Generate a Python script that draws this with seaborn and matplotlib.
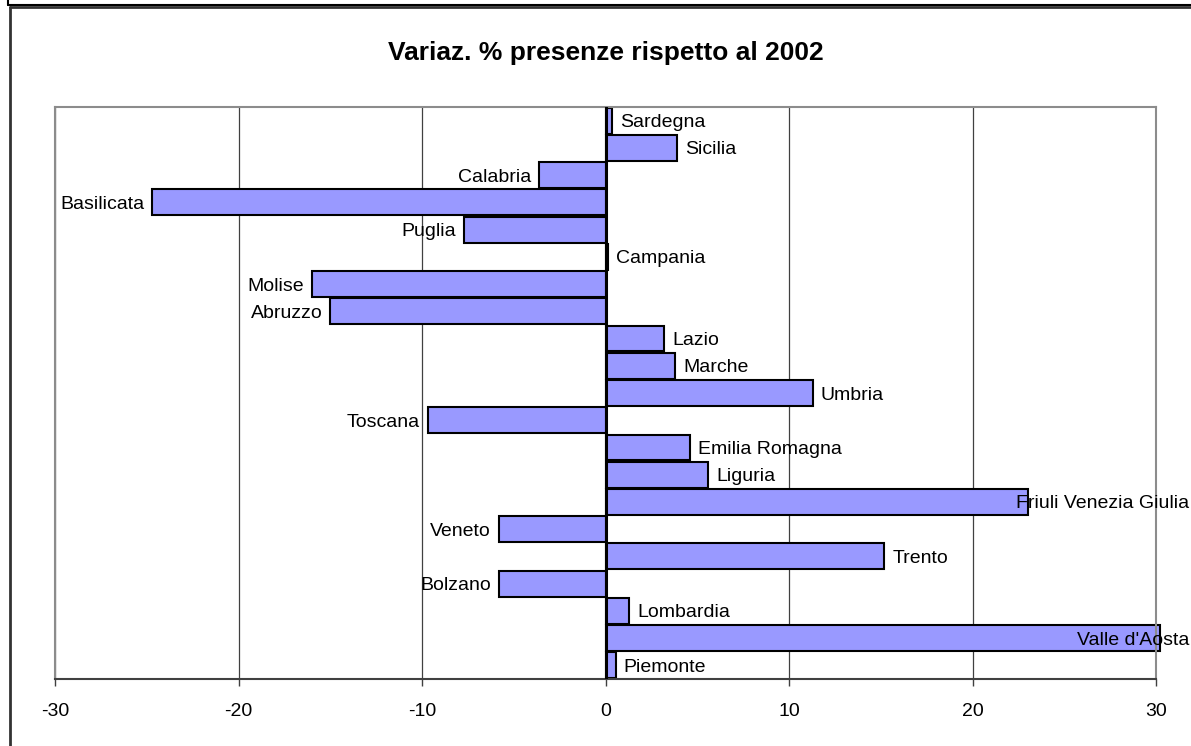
import matplotlib
matplotlib.use('Agg')
import matplotlib.pyplot as plt
import seaborn as sns
import pandas as pd
from matplotlib import transforms
from matplotlib.lines import Line2D

regions = ["Sardegna", "Sicilia", "Calabria", "Basilicata", "Puglia", "Campania",
           "Molise", "Abruzzo", "Lazio", "Marche", "Umbria", "Toscana",
           "Emilia Romagna", "Liguria", "Friuli Venezia Giulia", "Veneto",
           "Trento", "Bolzano", "Lombardia", "Valle d'Aosta", "Piemonte"]
values = [0.35, 3.9, -3.6, -24.7, -7.7, 0.15,
          -16.0, -15.0, 3.2, 3.8, 11.3, -9.7,
          4.6, 5.6, 23.0, -5.8,
          15.2, -5.8, 1.3, 30.2, 0.55]
x_ticks = [-30, -20, -10, 0, 10, 20, 30]
title = "Variaz. % presenze rispetto al 2002"

sns.set_theme(style='white')
plt.rcParams['font.family'] = ['Liberation Sans', 'DejaVu Sans']

W, H = 1191, 746
fig = plt.figure(figsize=(W / 100, H / 100), dpi=100)
fig.patch.set_facecolor('white')
ax = fig.add_axes([55 / W, 1 - 679 / H, (1156 - 55) / W, (679 - 107) / H])

df = pd.DataFrame({'region': regions, 'value': values})
sns.barplot(data=df, x='value', y='region', orient='h', color='#9999FF',
            saturation=1, edgecolor='black', linewidth=1.5, width=0.95, ax=ax,
            zorder=2)
for p in ax.patches:
    p.set_clip_on(False)

ax.set_xlim(x_ticks[0], x_ticks[-1])
ax.set_xticks(x_ticks)
ax.set_xticklabels([str(t) for t in x_ticks])
ax.grid(axis='x', color='#404040', lw=0.9, zorder=0)
ax.grid(axis='y', visible=False)
ax.set_axisbelow(True)
ax.axvline(0, color='black', lw=2.2, zorder=3)
ax.set_xlabel('')
ax.set_ylabel('')
ax.tick_params(axis='y', left=False, labelleft=False)
ax.tick_params(axis='x', bottom=True, direction='out', length=5, width=1,
               color='#404040', labelsize=14, pad=12, labelcolor='black')
for s in ['top', 'right', 'left']:
    ax.spines[s].set_color('#8c8c8c')
    ax.spines[s].set_linewidth(1.5)
ax.spines['bottom'].set_color('#404040')
ax.spines['bottom'].set_linewidth(1.5)

fig.text(606 / W, 1 - 53 / H, title, ha='center', va='center',
         fontsize=19, fontweight='bold', color='black')

# value labels
fig.canvas.draw()
renderer = fig.canvas.get_renderer()
right_px = 1189
lab_fs = 14
blend = transforms.blended_transform_factory(fig.transFigure, ax.transData)
for i, (r, v) in enumerate(zip(regions, values)):
    if v >= 0:
        t = ax.annotate(r, xy=(v, i), xytext=(8, 0), textcoords='offset pixels',
                        ha='left', va='center_baseline', fontsize=lab_fs, color='black',
                        annotation_clip=False, zorder=5)
    else:
        t = ax.annotate(r, xy=(v, i), xytext=(-8, 0), textcoords='offset pixels',
                        ha='right', va='center_baseline', fontsize=lab_fs, color='black',
                        annotation_clip=False, zorder=5)
    bb = t.get_window_extent(renderer)
    if bb.x1 > right_px:
        t.remove()
        ax.text(right_px / W, i, r, transform=blend, ha='right', va='center_baseline',
                fontsize=lab_fs, color='black', clip_on=False, zorder=5)

# outer chart frame
fig.add_artist(Line2D([8 / W, 1], [1 - 4.5 / H, 1 - 4.5 / H], transform=fig.transFigure,
                      color='black', lw=1.5))
fig.add_artist(Line2D([8 / W, 8 / W], [1, 1 - 4.5 / H], transform=fig.transFigure,
                      color='black', lw=1.5))
fig.add_artist(Line2D([10 / W, 1], [1 - 7 / H, 1 - 7 / H], transform=fig.transFigure,
                      color='#333333', lw=2))
fig.add_artist(Line2D([10 / W, 10 / W], [1 - 7 / H, 0], transform=fig.transFigure,
                      color='#333333', lw=2))

fig.savefig('out.png', dpi=100, facecolor='white')
